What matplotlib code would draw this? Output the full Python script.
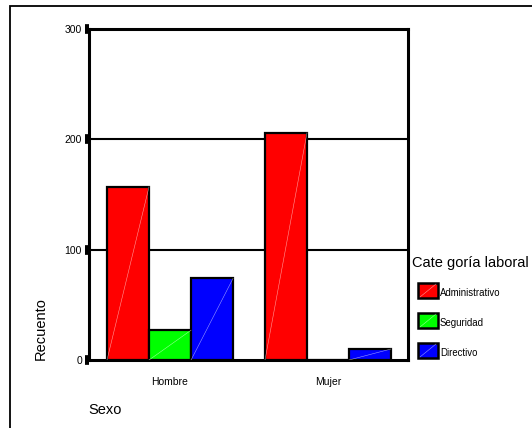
import matplotlib
matplotlib.use("Agg")
import matplotlib.pyplot as plt
from matplotlib.patches import Rectangle
import numpy as np

plt.rcParams['font.family'] = ['Liberation Sans', 'DejaVu Sans']

categories = ["Hombre", "Mujer"]
series_names = ["Administrativo", "Seguridad", "Directivo"]
administrativo = [157, 206]
seguridad = [27, 0]
directivo = [74, 10]
colors = ["#ff0000", "#00ff00", "#0000ff"]
yticks = [0, 100, 200, 300]
legend_title = "Cate goría laboral"

W, H = 532, 428
fig = plt.figure(figsize=(W / 100, H / 100), dpi=100)

# outer frame (only left and top edges visible)
fig.patches.append(Rectangle((10 / W, -0.2), 1.2, 1.2 - 6 / H, transform=fig.transFigure,
                             fill=False, edgecolor="black", linewidth=1.3))

ax = fig.add_axes([89 / W, 1 - 360 / H, 319 / W, 331 / H])
x = np.arange(len(categories))
bw = 0.266
series = [administrativo, seguridad, directivo]
for i, (vals, col, name) in enumerate(zip(series, colors, series_names)):
    xs = x + (i - 1) * bw
    ax.bar(xs, vals, width=bw, color=col, edgecolor="black", linewidth=1.6,
           label=name, zorder=3)
    for xi, v in zip(xs, vals):
        if v > 0:
            ax.plot([xi - bw / 2, xi + bw / 2], [0, v], color="white", lw=0.4,
                    alpha=0.6, zorder=4)

ax.set_xlim(-0.513, 1.506)
ax.set_ylim(0, 300)
ax.set_yticks(yticks)
ax.set_yticklabels([str(t) for t in yticks], fontsize=7.5)
ax.set_xticks(x)
ax.set_xticklabels(categories, fontsize=7.5)
ax.tick_params(axis='x', length=0, pad=12)
ax.tick_params(axis='y', direction='out', length=3, width=7, pad=2, color='black')
for t in yticks[1:3]:
    ax.axhline(t, color='black', lw=1.5, zorder=1)
for s in ax.spines.values():
    s.set_linewidth(2.2)
    s.set_color('black')

fig.text(41 / W, 1 - 329 / H, "Recuento", rotation=90, fontsize=10.5,
         ha='center', va='center')
fig.text(88 / W, 1 - 410 / H, "Sexo", fontsize=10.5, ha='left', va='center')

# legend drawn manually in figure pixels
fig.text(412 / W, 1 - 263 / H, legend_title, fontsize=10.5, ha='left', va='center')
box_top = [283, 313, 343]
for name, col, top in zip(series_names, colors, box_top):
    r = Rectangle((418 / W, 1 - (top + 15) / H), 20 / W, 15 / H,
                  transform=fig.transFigure, facecolor=col, edgecolor='black',
                  linewidth=1.8)
    fig.patches.append(r)
    fig.add_artist(plt.Line2D([420 / W, 436 / W], [1 - (top + 14) / H, 1 - (top + 1) / H],
                              color='white', lw=0.4, alpha=0.6))
    fig.text(440 / W, 1 - (top + 10) / H, name, fontsize=6.9, ha='left', va='center')

fig.savefig("out.png", dpi=100)
